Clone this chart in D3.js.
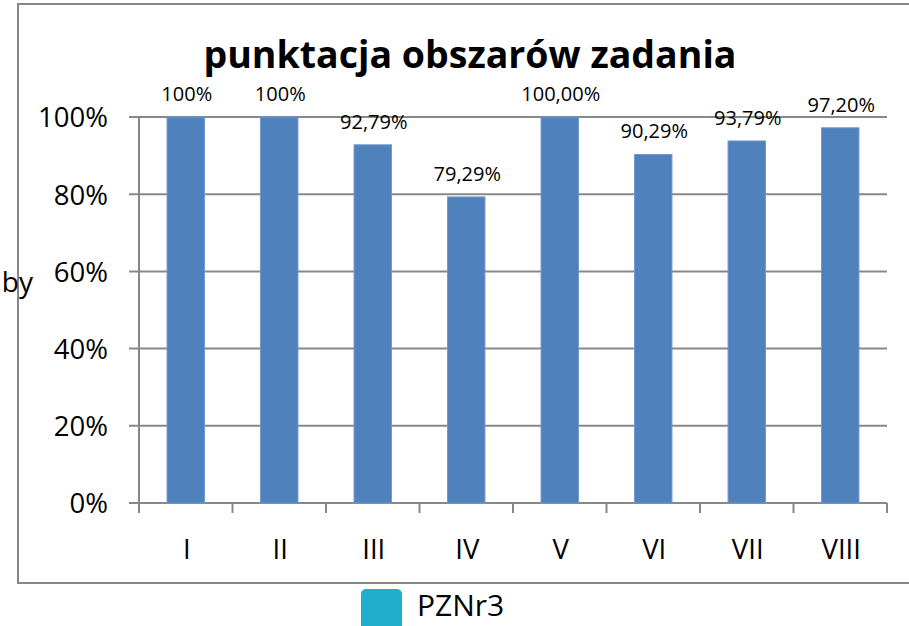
<!DOCTYPE html>
<html><head><meta charset="utf-8">
<script src="https://cdn.jsdelivr.net/npm/d3@7"></script>
<style>html,body{margin:0;padding:0;background:#fff;}svg{display:block;}</style>
</head><body>
<script>
const categories = ["I","II","III","IV","V","VI","VII","VIII"];
const values = [1.00, 1.00, 0.9279, 0.7929, 1.00, 0.9029, 0.9379, 0.9720];
const valueLabels = ["100%","100%","92,79%","79,29%","100,00%","90,29%","93,79%","97,20%"];
const yTicks = [0, 0.2, 0.4, 0.6, 0.8, 1.0];
const title = "punktacja obszarów zadania";
const seriesName = "PZNr3";

const W = 909, H = 626;
const FONT = "'Open Sans', 'Liberation Sans', sans-serif";
const svg = d3.select("body").append("svg").attr("width", W).attr("height", H);

// outer chart border
svg.append("rect").attr("x", 18).attr("y", 4).attr("width", 900).attr("height", 579)
  .attr("fill", "none").attr("stroke", "#878787").attr("stroke-width", 2);

const x = d3.scaleBand().domain(categories).range([139, 887]).paddingInner(0.6).paddingOuter(0.3);
const y = d3.scaleLinear().domain([0, 1]).range([503, 117]);

// gridlines
svg.append("g").selectAll("line").data(yTicks).join("line")
  .attr("x1", 129).attr("x2", 887)
  .attr("y1", d => y(d)).attr("y2", d => y(d))
  .attr("stroke", "#888").attr("stroke-width", 2);

// y axis line
svg.append("line").attr("x1", 139).attr("x2", 139).attr("y1", y(1)).attr("y2", y(0))
  .attr("stroke", "#888").attr("stroke-width", 2);

// x ticks at band boundaries
const step = x.step();
const bounds = d3.range(categories.length + 1).map(i => 139 + i * step);
svg.append("g").selectAll("line").data(bounds).join("line")
  .attr("x1", d => d).attr("x2", d => d).attr("y1", y(0)).attr("y2", y(0) + 10)
  .attr("stroke", "#888").attr("stroke-width", 2);

// y labels
svg.append("g").selectAll("text").data(yTicks).join("text")
  .attr("x", 108).attr("y", d => y(d) + 3)
  .attr("text-anchor", "end").attr("dominant-baseline", "middle")
  .attr("font-family", FONT).attr("font-size", 27.5).attr("fill", "#000")
  .text(d => d3.format(".0%")(d));

// bars
svg.append("g").selectAll("rect").data(values).join("rect")
  .attr("x", (d, i) => x(categories[i])).attr("width", x.bandwidth())
  .attr("y", d => y(d)).attr("height", d => y(0) - y(d))
  .attr("fill", "#4F81BD").attr("stroke", "#6F98CC").attr("stroke-width", 1);

// value labels
svg.append("g").selectAll("text").data(values).join("text")
  .attr("x", (d, i) => x(categories[i]) + x.bandwidth() / 2 + 1)
  .attr("y", d => y(d) - 16)
  .attr("text-anchor", "middle")
  .attr("font-family", FONT).attr("font-size", 20).attr("fill", "#000")
  .text((d, i) => valueLabels[i]);

// x labels
svg.append("g").selectAll("text").data(categories).join("text")
  .attr("x", d => x(d) + x.bandwidth() / 2 + 1).attr("y", 559)
  .attr("text-anchor", "middle")
  .attr("font-family", FONT).attr("font-size", 27.5).attr("fill", "#000")
  .text(d => d);

// title
svg.append("text").attr("x", 470).attr("y", 68).attr("text-anchor", "middle")
  .attr("font-family", FONT).attr("font-weight", 700).attr("font-size", 37.5).attr("fill", "#000")
  .text(title);

// clipped axis title fragment
svg.append("text").attr("x", 33).attr("y", 292).attr("text-anchor", "end")
  .attr("font-family", FONT).attr("font-size", 28).attr("fill", "#000")
  .text("by");

// legend
svg.append("rect").attr("x", 361).attr("y", 589).attr("width", 41).attr("height", 50)
  .attr("rx", 5).attr("fill", "#1FAECE");
svg.append("text").attr("x", 417).attr("y", 616)
  .attr("font-family", FONT).attr("font-size", 30).attr("fill", "#000")
  .text(seriesName);
</script>
</body></html>
